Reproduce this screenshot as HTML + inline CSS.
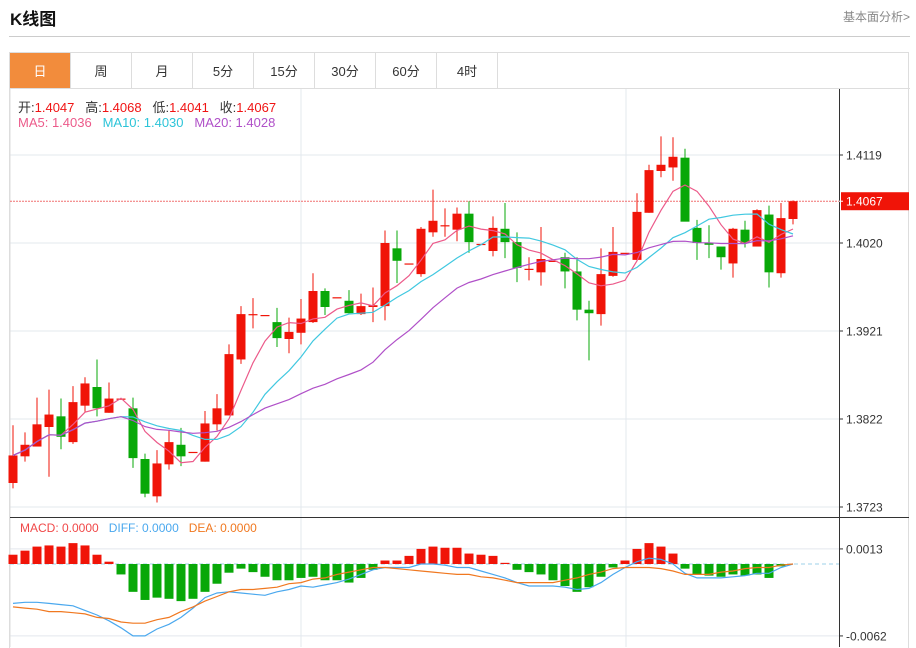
<!DOCTYPE html>
<html><head><meta charset="utf-8">
<style>
body{margin:0;width:916px;height:648px;background:#fff;font-family:"Liberation Sans","Noto Sans CJK SC",sans-serif;overflow:hidden;position:relative}
.t{position:absolute}
.tab{position:absolute;top:53px;width:60px;height:35px;line-height:37px;text-align:center;font-size:13px;color:#333;border-right:1px solid #ddd;background:#fff}
</style></head><body>
<div class="t" style="left:10px;top:5px;font-size:17px;font-weight:bold;color:#111">K线图</div>
<div class="t" style="left:843px;top:8px;font-size:12px;color:#888">基本面分析&gt;</div>
<div class="t" style="left:9px;top:36px;width:901px;height:1px;background:#ccc"></div>
<div class="t" style="left:9px;top:52px;width:900px;height:596px;border:1px solid #ddd;border-bottom:none;box-sizing:border-box"></div>
<div class="t" style="left:9px;top:88px;width:901px;height:1px;background:#ddd"></div>
<div class="tab" style="left:10px;background:#f28c3c;color:#fff">日</div>
<div class="tab" style="left:71px">周</div>
<div class="tab" style="left:132px">月</div>
<div class="tab" style="left:193px">5分</div>
<div class="tab" style="left:254px">15分</div>
<div class="tab" style="left:315px">30分</div>
<div class="tab" style="left:376px">60分</div>
<div class="tab" style="left:437px">4时</div>

<svg id="chart" width="916" height="648" style="position:absolute;left:0;top:0" xmlns="http://www.w3.org/2000/svg"></svg>

<div class="t" style="left:18px;top:97px;font-size:13px;color:#333;white-space:nowrap">开:<span style="color:#f01414">1.4047</span>&nbsp;&nbsp; 高:<span style="color:#f01414">1.4068</span>&nbsp;&nbsp; 低:<span style="color:#f01414">1.4041</span>&nbsp;&nbsp; 收:<span style="color:#f01414">1.4067</span></div>
<div class="t" style="left:18px;top:115px;font-size:13px;white-space:nowrap"><span style="color:#ec5a8a">MA5: 1.4036</span>&nbsp;&nbsp; <span style="color:#2cc4d8">MA10: 1.4030</span>&nbsp;&nbsp; <span style="color:#b050c8">MA20: 1.4028</span></div>
<div class="t" style="left:20px;top:521px;font-size:12px;white-space:nowrap"><span style="color:#f04848">MACD: 0.0000</span>&nbsp;&nbsp; <span style="color:#4aa8ee">DIFF: 0.0000</span>&nbsp;&nbsp; <span style="color:#f07820">DEA: 0.0000</span></div>

<script>
const opens=[1.3750,1.3780,1.3791,1.3813,1.3825,1.3796,1.3837,1.3858,1.3829,1.3845,1.3834,1.3777,1.3735,1.3771,1.3793,1.3785,1.3774,1.3816,1.3826,1.3889,1.3940,1.3939,1.3931,1.3912,1.3919,1.3931,1.3966,1.3959,1.3955,1.3940,1.3948,1.3949,1.4014,1.3997,1.3985,1.4032,1.4040,1.4035,1.4053,1.4019,1.4011,1.4036,1.4021,1.3991,1.3987,1.4000,1.4004,1.3988,1.3945,1.3940,1.3983,1.4009,1.4001,1.4054,1.4101,1.4105,1.4116,1.4037,1.4020,1.4016,1.3997,1.4035,1.4016,1.4052,1.3986,1.4047];
const closes=[1.3781,1.3793,1.3816,1.3827,1.3802,1.3841,1.3862,1.3834,1.3845,1.3845,1.3778,1.3738,1.3772,1.3796,1.3780,1.3785,1.3817,1.3834,1.3895,1.3940,1.3940,1.3939,1.3913,1.3920,1.3935,1.3966,1.3948,1.3959,1.3941,1.3949,1.3950,1.4020,1.4000,1.3997,1.4036,1.4045,1.4040,1.4053,1.4021,1.4019,1.4037,1.4021,1.3992,1.3991,1.4002,1.4000,1.3988,1.3945,1.3941,1.3985,1.4010,1.4009,1.4055,1.4102,1.4108,1.4117,1.4044,1.4020,1.4018,1.4004,1.4036,1.4020,1.4057,1.3987,1.4048,1.4067];
const highs=[1.3815,1.3807,1.3846,1.3855,1.3845,1.3859,1.3869,1.3889,1.3863,1.3845,1.3846,1.3783,1.3787,1.3809,1.3812,1.3785,1.3831,1.3850,1.3906,1.3949,1.3958,1.3939,1.3947,1.3936,1.3957,1.3986,1.3969,1.3959,1.3967,1.3963,1.3970,1.4034,1.4034,1.3997,1.4038,1.4080,1.4059,1.4060,1.4067,1.4019,1.4050,1.4065,1.4032,1.4004,1.4038,1.4000,1.4009,1.4004,1.3955,1.4014,1.4038,1.4009,1.4076,1.4108,1.4140,1.4139,1.4126,1.4046,1.4040,1.4005,1.4037,1.4045,1.4058,1.4062,1.4065,1.4068];
const lows=[1.3744,1.3774,1.3791,1.3757,1.3788,1.3794,1.3830,1.3825,1.3829,1.3845,1.3767,1.3734,1.3728,1.3765,1.3769,1.3785,1.3774,1.3809,1.3826,1.3884,1.3924,1.3939,1.3903,1.3896,1.3906,1.3930,1.3939,1.3959,1.3941,1.3939,1.3931,1.3933,1.3975,1.3997,1.3982,1.4027,1.4027,1.4022,1.4009,1.4019,1.4005,1.4003,1.3976,1.3978,1.3972,1.4000,1.3969,1.3933,1.3888,1.3927,1.3982,1.4009,1.4000,1.4054,1.4094,1.4090,1.4109,1.4001,1.4003,1.3990,1.3981,1.4015,1.4016,1.3970,1.3981,1.4041];
const histValues=[0.0008,0.00115,0.0015,0.0016,0.0015,0.0018,0.0016,0.0008,0.0002,-0.0009,-0.0024,-0.0031,-0.0029,-0.0030,-0.0032,-0.0030,-0.0024,-0.0017,-0.00075,-0.0004,-0.0007,-0.0011,-0.0014,-0.0014,-0.0012,-0.0011,-0.0014,-0.0014,-0.0016,-0.0012,-0.0005,0.0003,0.0003,0.0007,0.0013,0.0015,0.0014,0.0014,0.0009,0.0008,0.0007,0.0001,-0.0005,-0.0007,-0.0009,-0.0014,-0.0019,-0.0024,-0.0020,-0.0011,-0.0003,0.0003,0.0013,0.0018,0.0015,0.0009,-0.0004,-0.0009,-0.0010,-0.0011,-0.0009,-0.0010,-0.0009,-0.0012,-0.0002,0];
const diffValues=[-0.0034,-0.0033,-0.0033,-0.0034,-0.0035,-0.0036,-0.0040,-0.0044,-0.0049,-0.0055,-0.0062,-0.0062,-0.0056,-0.0052,-0.0046,-0.0038,-0.0029,-0.0025,-0.0024,-0.0025,-0.0026,-0.0027,-0.0024,-0.0022,-0.0019,-0.0020,-0.0018,-0.0016,-0.0013,-0.0009,-0.0005,-0.0003,-0.0003,-0.0003,0,0,-0.0001,-0.0003,-0.0003,-0.0006,-0.0009,-0.0012,-0.0016,-0.0019,-0.0019,-0.0019,-0.0020,-0.0022,-0.0021,-0.0016,-0.0009,-0.0003,0.0002,0.0005,0.0004,0,-0.0008,-0.0012,-0.0012,-0.0012,-0.0011,-0.0010,-0.0008,-0.0008,-0.0003,0];
const deaValues=[-0.0037,-0.0038,-0.0039,-0.0041,-0.0041,-0.0042,-0.0043,-0.0046,-0.0047,-0.0050,-0.0051,-0.0051,-0.0048,-0.0046,-0.0041,-0.0037,-0.0032,-0.0028,-0.0024,-0.0022,-0.0022,-0.0021,-0.0020,-0.0017,-0.0016,-0.0013,-0.0012,-0.0009,-0.0007,-0.0005,-0.0003,-0.0003,-0.0004,-0.0005,-0.0006,-0.0007,-0.0008,-0.0009,-0.0009,-0.0011,-0.0012,-0.0014,-0.0016,-0.0016,-0.0016,-0.0016,-0.0014,-0.0012,-0.0009,-0.0007,-0.0004,-0.0003,-0.0003,-0.0003,-0.0004,-0.0006,-0.0009,-0.0009,-0.0009,-0.0007,-0.0006,-0.0004,-0.0003,-0.0003,-0.0001,0];
const priceTicks=[1.4119,1.4020,1.3921,1.3822,1.3723];
const macdTicks=[0.0013,-0.0062];
const lastPrice=1.4067;

const NS="http://www.w3.org/2000/svg";
const svg=document.getElementById('chart');
function el(tag,attrs,parent){const e=document.createElementNS(NS,tag);for(const k in attrs)e.setAttribute(k,attrs[k]);(parent||svg).appendChild(e);return e;}
const xOf=i=>13+i*12;
const yP=p=>155+(1.4119-p)/(0.0396)*352;
const yM=v=>564-v*11600;

// grid
priceTicks.forEach(t=>{const l=el('line',{x1:10,x2:839,y1:yP(t),y2:yP(t),stroke:'#e3e8ee'});

});
macdTicks.forEach(t=>{const l=el('line',{x1:10,x2:839,y1:yM(t),y2:yM(t),stroke:'#e3e8ee'});

});
[301,626].forEach(x=>{const l=el('line',{x1:x,x2:x,y1:89,y2:647,stroke:'#e3e8ee'});

});
el('line',{x1:10,x2:10,y1:89,y2:647,stroke:'#ddd'});
// last price line
const lp=el('line',{x1:10,x2:839,y1:yP(lastPrice),y2:yP(lastPrice),stroke:'#f07070','stroke-dasharray':'2,1'});


// zero line macd
const zl=el('line',{x1:10,x2:839,y1:yM(0),y2:yM(0),stroke:'#9cd0ea','stroke-dasharray':'4,3'});



// candles
for(let i=0;i<opens.length;i++){
  const up=closes[i]>=opens[i];const c=up?'#f01408':'#08a808';const x=xOf(i);
  const g=el('g',{});
  
  
  el('line',{x1:x,x2:x,y1:yP(highs[i]),y2:yP(lows[i]),stroke:c,'stroke-width':1},g);
  const top=yP(Math.max(opens[i],closes[i])),bot=yP(Math.min(opens[i],closes[i]));
  el('rect',{x:x-4.5,y:top,width:9,height:Math.max(1.2,bot-top),fill:c},g);
}
// MAs
function ma(n){return closes.map((_,i)=>{const s=Math.max(0,i-n+1);let t=0;for(let j=s;j<=i;j++)t+=closes[j];return t/(i-s+1);});}
[[5,'#ec5a8a','ma5-line'],[10,'#40c8e0','ma10-line'],[20,'#b050c8','ma20-line']].forEach(([n,c,nm])=>{
  const m=ma(n);const p=el('polyline',{points:m.map((v,i)=>xOf(i)+','+yP(v).toFixed(1)).join(' '),fill:'none',stroke:c,'stroke-width':1.2});
  
  
});
// macd hist
histValues.forEach((v,i)=>{const y0=yM(0),y1=yM(v);
  const r=el('rect',{x:xOf(i)-4.5,y:Math.min(y0,y1),width:9,height:Math.abs(y1-y0),fill:v>=0?'#f01408':'#08a808'});
  
  });
[[diffValues,'#4aa8ee','diff-line'],[deaValues,'#f07820','dea-line']].forEach(([a,c,nm])=>{
  const p=el('polyline',{points:a.map((v,i)=>xOf(i)+','+yM(v).toFixed(1)).join(' '),fill:'none',stroke:c,'stroke-width':1.2});
  
  });

// axes
el('line',{x1:839.5,x2:839.5,y1:89,y2:647,stroke:'#333'});
el('line',{x1:10,x2:909,y1:517.5,y2:517.5,stroke:'#333'});
priceTicks.forEach(t=>{const y=yP(t);el('line',{x1:839,x2:843,y1:y,y2:y,stroke:'#333'});
  const tx=el('text',{x:846,y:y+4.5,'font-size':12,fill:'#333','font-family':'Liberation Sans, sans-serif'});tx.textContent=t.toFixed(4);
  
  });
macdTicks.forEach(t=>{const y=yM(t);el('line',{x1:839,x2:843,y1:y,y2:y,stroke:'#333'});
  const tx=el('text',{x:846,y:y+4.5,'font-size':12,fill:'#333','font-family':'Liberation Sans, sans-serif'});tx.textContent=t.toFixed(4);
  
  });
const ly=yP(lastPrice);
el('rect',{x:841,y:ly-9,width:68,height:18,fill:'#f01408'});
el('line',{x1:839,x2:843,y1:ly,y2:ly,stroke:'#fff'});
const lt=el('text',{x:846,y:ly+4.5,'font-size':12,fill:'#fff','font-family':'Liberation Sans, sans-serif'});lt.textContent=lastPrice.toFixed(4);


</script>
</body></html>
